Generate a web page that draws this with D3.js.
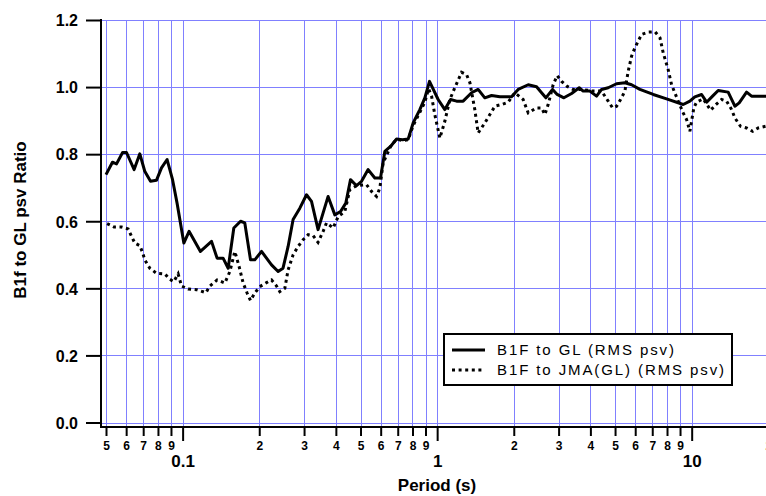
<!DOCTYPE html>
<html lang="en">
  <head>
    <meta charset="utf-8" />
    <title>B1F to GL psv Ratio</title>
    <style>
      body {
        margin: 0;
        background: #fff;
      }
      svg {
        display: block;
        font-family: "Liberation Sans", Arial, sans-serif;
      }
      .grid line {
        stroke: #8080ff;
        stroke-width: 1;
        shape-rendering: crispEdges;
      }
      .axis line,
      .axis path {
        stroke: #000;
        stroke-width: 2;
      }
      .axis text {
        font-weight: bold;
        fill: #000;
      }
    </style>
    <script src="https://d3js.org/d3.v7.min.js"></script>
  </head>

  <body>
    <svg width="766" height="496"></svg>
    <script>
      // B1F to GL (RMS psv): period in s, ratio
      var glPeriod = [
        0.05, 0.053, 0.055, 0.0581, 0.0602, 0.0645, 0.0679, 0.071, 0.0748, 0.0789,
        0.0826, 0.0869, 0.0913, 0.0951, 0.1011, 0.106, 0.1175, 0.1299, 0.1366, 0.1442,
        0.151, 0.1589, 0.1689, 0.1755, 0.1848, 0.1921, 0.2042, 0.2235, 0.2372, 0.248,
        0.2597, 0.2717, 0.2887, 0.3067, 0.3209, 0.3405, 0.3729, 0.3963, 0.4173, 0.4377,
        0.4567, 0.4823, 0.5046, 0.5356, 0.569, 0.599, 0.6229, 0.6559, 0.6927, 0.7312,
        0.7692, 0.8048, 0.855, 0.8947, 0.933, 1.009, 1.072, 1.129, 1.192, 1.265,
        1.365, 1.449, 1.539, 1.636, 1.764, 1.96, 2.081, 2.279, 2.458, 2.572,
        2.674, 2.841, 2.962, 3.147, 3.375, 3.614, 3.748, 3.981, 4.23, 4.426,
        4.698, 5.069, 5.466, 5.805, 6.26, 7.063, 7.968, 9.262, 9.84, 10.29,
        10.94, 11.45, 12.08, 12.71, 13.91, 14.78, 15.37, 16.43, 17.19, 20
      ];
      var glRatio = [
        0.739, 0.776, 0.771, 0.805, 0.805, 0.754, 0.801, 0.749, 0.719, 0.722,
        0.759, 0.784, 0.724, 0.654, 0.535, 0.57, 0.51, 0.54, 0.49, 0.49,
        0.46, 0.58, 0.6, 0.595, 0.485, 0.485, 0.51, 0.47, 0.45, 0.46,
        0.525, 0.605, 0.639, 0.679, 0.659, 0.575, 0.674, 0.619, 0.629, 0.654,
        0.724, 0.706, 0.719, 0.754, 0.729, 0.729, 0.808, 0.823, 0.845, 0.843,
        0.845, 0.893, 0.933, 0.968, 1.017, 0.963, 0.933, 0.963, 0.958, 0.958,
        0.983, 0.993, 0.968, 0.975, 0.971, 0.971, 0.993, 1.007, 1.001, 0.983,
        0.968, 0.993, 0.978, 0.968, 0.981, 0.998, 0.988, 0.988, 0.973, 0.993,
        0.998, 1.01, 1.013, 1.007, 0.993, 0.978, 0.965, 0.948, 0.958, 0.971,
        0.978, 0.955, 0.973, 0.99, 0.985, 0.943, 0.953, 0.985, 0.973, 0.973
      ];

      // B1F to JMA(GL) (RMS psv)
      var jmaPeriod = [
        0.0505, 0.0537, 0.0575, 0.0611, 0.063, 0.0649, 0.0679, 0.0696, 0.071, 0.0743,
        0.0789, 0.0851, 0.0891, 0.0923, 0.096, 0.099, 0.1051, 0.1134, 0.1234, 0.128,
        0.1366, 0.1465, 0.1533, 0.1604, 0.1667, 0.1729, 0.1792, 0.1848, 0.1921, 0.201,
        0.2136, 0.2235, 0.2339, 0.2409, 0.2521, 0.2597, 0.2717, 0.2843, 0.2975, 0.3113,
        0.3257, 0.3405, 0.3565, 0.3675, 0.3903, 0.4083, 0.4338, 0.4539, 0.4823, 0.528,
        0.5524, 0.5778, 0.5955, 0.6135, 0.6559, 0.6927, 0.7312, 0.7692, 0.8048, 0.855,
        0.8947, 0.925, 0.951, 0.979, 1.025, 1.072, 1.122, 1.173, 1.247, 1.305,
        1.345, 1.406, 1.449, 1.539, 1.611, 1.686, 1.791, 1.901, 2.02, 2.177,
        2.279, 2.458, 2.572, 2.65, 2.73, 2.856, 2.962, 3.083, 3.243, 3.423,
        3.693, 4.102, 4.426, 4.698, 4.89, 5.069, 5.257, 5.466, 5.63, 5.805,
        5.982, 6.164, 6.357, 6.749, 7.18, 7.506, 7.73, 8.085, 8.337, 8.8,
        9.262, 9.55, 9.84, 9.99, 10.2, 10.45, 11.1, 11.87, 12.45, 13.11,
        13.72, 14.35, 14.78, 15.56, 16.43, 17.35, 18.25, 20
      ];
      var jmaRatio = [
        0.593, 0.583, 0.583, 0.577, 0.555, 0.535, 0.527, 0.507, 0.485, 0.46,
        0.445, 0.443, 0.427, 0.42, 0.443, 0.407, 0.398, 0.396, 0.387, 0.407,
        0.425, 0.416, 0.45, 0.51, 0.465, 0.416, 0.386, 0.364, 0.386, 0.405,
        0.417, 0.425, 0.407, 0.39, 0.4, 0.455, 0.5, 0.525, 0.545, 0.56,
        0.557, 0.537, 0.57, 0.595, 0.58, 0.614, 0.629, 0.694, 0.706, 0.709,
        0.689, 0.674, 0.699, 0.774, 0.823, 0.845, 0.84, 0.843, 0.885, 0.925,
        0.955, 0.995, 0.973, 0.918, 0.848, 0.898, 0.963, 0.998, 1.044, 1.037,
        1.013, 0.933, 0.863, 0.893, 0.918, 0.943, 0.948, 0.955, 0.983, 0.963,
        0.923, 0.938, 0.938, 0.918, 0.948, 1.007, 1.034, 1.017, 1.002, 0.993,
        0.993, 0.988, 0.988, 0.958, 0.938, 0.943, 0.963, 0.988, 1.047, 1.092,
        1.117, 1.137, 1.157, 1.164, 1.165, 1.147, 1.102, 1.052, 1.007, 0.963,
        0.923, 0.903, 0.868, 0.898, 0.938, 0.955, 0.965, 0.931, 0.948, 0.963,
        0.958, 0.933, 0.908, 0.883, 0.878, 0.868, 0.878, 0.885
      ];

      var yTicks = [0, 0.2, 0.4, 0.6, 0.8, 1.0, 1.2];
      var decades = [0.01, 0.1, 1, 10];
      var minorDigits = [2, 3, 4, 5, 6, 7, 8, 9];
      var majorLabels = ["0.1", "1", "10"];
      var legendLabels = ["B1F to GL (RMS psv)", "B1F to JMA(GL) (RMS psv)"];

      var svg = d3.select("svg");
      var x = d3.scaleLog().domain([0.05, 20]).range([106, 768.3]);
      var y = d3.scaleLinear().domain([0, 1.2]).range([422.5, 20]);
      var axisLeftX = 101,
        axisBottomY = 427,
        rightX = 766;

      // minor (digit) ticks and major (decade) ticks
      var minorTicks = [];
      decades.forEach((d) => {
        minorDigits.forEach((k) => {
          var v = +(k * d).toPrecision(3);
          if (v >= 0.0499 && v <= 20.01) minorTicks.push({ v: v, label: String(k) });
        });
      });
      var majorTicks = majorLabels.map((s) => +s);
      var allTicks = minorTicks.map((t) => t.v).concat(majorTicks);

      // grid
      var grid = svg.append("g").attr("class", "grid");
      grid
        .selectAll(".v")
        .data(allTicks)
        .enter()
        .append("line")
        .attr("x1", (d) => Math.round(x(d)) + 0.5)
        .attr("x2", (d) => Math.round(x(d)) + 0.5)
        .attr("y1", y(1.2))
        .attr("y2", axisBottomY);
      grid
        .selectAll(".h")
        .data(yTicks)
        .enter()
        .append("line")
        .attr("x1", axisLeftX)
        .attr("x2", rightX)
        .attr("y1", (d) => Math.round(y(d)) + 0.5)
        .attr("y2", (d) => Math.round(y(d)) + 0.5);

      // curves
      var line = d3
        .line()
        .x((d) => x(d[0]))
        .y((d) => y(d[1]));

      svg
        .append("path")
        .datum(d3.zip(jmaPeriod, jmaRatio))
        .attr("fill", "none")
        .attr("stroke", "#000")
        .attr("stroke-width", 3)
        .attr("stroke-dasharray", "3,3.6")
        .attr("d", line);

      svg
        .append("path")
        .datum(d3.zip(glPeriod, glRatio))
        .attr("fill", "none")
        .attr("stroke", "#000")
        .attr("stroke-width", 3)
        .attr("stroke-linejoin", "round")
        .attr("d", line);

      // y axis
      var yAxis = svg
        .append("g")
        .attr("class", "axis")
        .attr("transform", `translate(${axisLeftX},0)`)
        .call(d3.axisLeft(y).tickValues(yTicks).tickSize(15).tickPadding(8).tickFormat(d3.format(".1f")));
      yAxis.select(".domain").remove();
      yAxis.selectAll("text").attr("font-size", "16px").attr("dy", "0.36em");
      svg
        .append("line")
        .attr("stroke", "#000")
        .attr("stroke-width", 2)
        .attr("x1", axisLeftX)
        .attr("x2", axisLeftX)
        .attr("y1", y(1.2) - 1)
        .attr("y2", axisBottomY + 1);

      // x axis: minor ticks with digit labels
      var xMinor = svg
        .append("g")
        .attr("class", "axis")
        .attr("transform", `translate(0,${axisBottomY})`)
        .call(
          d3
            .axisBottom(x)
            .tickValues(minorTicks.map((t) => t.v))
            .tickSize(9)
            .tickFormat((d, i) => minorTicks[i].label)
        );
      xMinor.select(".domain").remove();
      xMinor.selectAll("text").attr("font-size", "12px").attr("y", 22.5).attr("dy", 0);

      // x axis: decade ticks
      var xMajor = svg
        .append("g")
        .attr("class", "axis")
        .attr("transform", `translate(0,${axisBottomY})`)
        .call(
          d3
            .axisBottom(x)
            .tickValues(majorTicks)
            .tickSize(14)
            .tickFormat((d, i) => majorLabels[i])
        );
      xMajor.select(".domain").remove();
      xMajor.selectAll("text").attr("font-size", "17px").attr("y", 39.7).attr("dy", 0);

      svg
        .append("line")
        .attr("stroke", "#000")
        .attr("stroke-width", 2)
        .attr("x1", axisLeftX - 1)
        .attr("x2", rightX)
        .attr("y1", axisBottomY)
        .attr("y2", axisBottomY);

      // axis titles
      svg
        .append("text")
        .attr("x", 437)
        .attr("y", 491)
        .attr("text-anchor", "middle")
        .attr("font-size", "17px")
        .attr("font-weight", "bold")
        .text("Period (s)");

      svg
        .append("text")
        .attr("transform", "translate(26,220) rotate(-90)")
        .attr("text-anchor", "middle")
        .attr("font-size", "17px")
        .attr("font-weight", "bold")
        .text("B1f to GL psv Ratio");

      // legend
      var legend = svg.append("g").attr("transform", "translate(444,334)");
      legend
        .append("rect")
        .attr("width", 288)
        .attr("height", 51)
        .attr("fill", "#fff")
        .attr("stroke", "#000")
        .attr("stroke-width", 2);
      var rows = legend
        .selectAll(".row")
        .data(legendLabels)
        .enter()
        .append("g")
        .attr("transform", (d, i) => `translate(0,${16 + i * 20})`);
      rows
        .append("line")
        .attr("x1", 8)
        .attr("x2", 41)
        .attr("stroke", "#000")
        .attr("stroke-width", 3)
        .attr("stroke-dasharray", (d, i) => (i ? "3,3.6" : null));
      rows
        .append("text")
        .attr("x", 53)
        .attr("y", 5)
        .attr("font-size", "15px")
        .attr("letter-spacing", "1.9px")
        .text((d) => d);
    </script>
  </body>
